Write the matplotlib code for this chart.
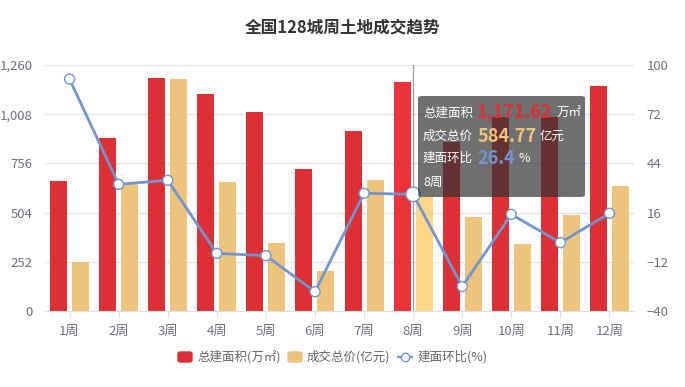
import matplotlib
matplotlib.use("Agg")
import matplotlib.pyplot as plt
import matplotlib.patches as patches
import numpy as np

plt.rcParams['font.family'] = ['Noto Sans CJK SC', 'DejaVu Sans']

# data
weeks = ["1周", "2周", "3周", "4周", "5周", "6周", "7周", "8周", "9周", "10周", "11周", "12周"]
area = [666, 884, 1192, 1110, 1018, 726, 923, 1171.62, 867, 995, 995, 1152]
price = [253, 650, 1187, 659, 347, 206, 671, 584.77, 481, 345, 492, 640]
ratio = [92.0, 32.1, 34.4, -7.2, -8.5, -29.0, 27.0, 26.4, -26.1, 15.0, -1.1, 15.6]
left_ticks = [0, 252, 504, 756, 1008, 1260]
right_ticks = [-40, -12, 16, 44, 72, 100]
hover = 7

RED, RED_HI = "#dc3035", "#ee3239"
ORANGE, ORANGE_HI = "#eec37b", "#fdd688"
BLUE = "#7195cf"
TICK = "#6e7079"
GRID = "#e0e6f1"

W, H = 685, 387
fig = plt.figure(figsize=(W / 100, H / 100), dpi=100)

def fx(x):
    return x / W

def fy(y):
    return 1 - y / H

ax = fig.add_axes([fx(45), fy(311), fx(634) - fx(45), fy(65) - fy(311)])
ax2 = ax.twinx()

x = np.arange(len(weeks))
bw = 0.345
off = 0.224
red_cols = [RED_HI if i == hover else RED for i in x]
org_cols = [ORANGE_HI if i == hover else ORANGE for i in x]
ax.bar(x - off, area, width=bw, color=red_cols, zorder=2)
ax.bar(x + off, price, width=bw, color=org_cols, zorder=2)

ax.set_xlim(-0.5, len(weeks) - 0.5)
ax.set_ylim(0, 1260)
ax.set_yticks(left_ticks)
ax.set_yticklabels([f"{v:,}" for v in left_ticks])
ax.set_xticks(x)
ax.set_xticklabels(weeks)
ax.grid(axis='y', color=GRID, lw=1, zorder=0)
ax.set_axisbelow(True)
for s in ["top", "right", "left"]:
    ax.spines[s].set_visible(False)
ax.spines["bottom"].set_color("#dcdfe6")
ax.tick_params(axis='x', colors=TICK, labelsize=9.5, length=5, color="#dcdfe6", pad=5)
ax.tick_params(axis='y', colors=TICK, labelsize=9.5, length=0, pad=9)

# pointer line
ax.axvline(hover, color="#999999", lw=0.8, zorder=5)

ax2.set_ylim(-40, 100)
ax2.set_yticks(right_ticks)
ax2.tick_params(axis='y', colors=TICK, labelsize=9.5, length=0, pad=9)
for s in ax2.spines.values():
    s.set_visible(False)
ax2.plot(x, ratio, color=BLUE, lw=2.0, zorder=3)
sizes = [7.2 if i != hover else 10.5 for i in x]
ax2.scatter(x, ratio, s=[v ** 2 for v in sizes], facecolor="white",
            edgecolor=BLUE, linewidth=1.0, zorder=4)

# title
fig.text(0.5, fy(27), "全国128城周土地成交趋势", ha='center', va='center',
         fontsize=12, fontweight='bold', color="#333333")

# legend
ly = fy(357)
fig.patches.append(patches.FancyBboxPatch((fx(178), fy(362)), fx(14), fy(352) - fy(362),
                                          boxstyle="round,pad=0,rounding_size=0.004",
                                          transform=fig.transFigure, color=RED))
fig.text(fx(197), ly, "总建面积(万㎡)", ha='left', va='center', fontsize=9, color="#666666")
fig.patches.append(patches.FancyBboxPatch((fx(288), fy(362)), fx(14), fy(352) - fy(362),
                                          boxstyle="round,pad=0,rounding_size=0.004",
                                          transform=fig.transFigure, color=ORANGE))
fig.text(fx(307), ly, "成交总价(亿元)", ha='left', va='center', fontsize=9, color="#666666")
fig.lines.append(plt.Line2D([fx(398), fx(412)], [ly, ly], transform=fig.transFigure,
                            color=BLUE, lw=1.5))
fig.lines.append(plt.Line2D([fx(405)], [ly], transform=fig.transFigure, marker='o',
                            markersize=6, markerfacecolor='white', markeredgecolor=BLUE,
                            color=BLUE))
fig.text(fx(418), ly, "建面环比(%)", ha='left', va='center', fontsize=9, color="#666666")

# tooltip
fig.patches.append(patches.FancyBboxPatch((fx(418), fy(197)), fx(585) - fx(418), fy(96) - fy(197),
                                          boxstyle="round,pad=0,rounding_size=0.006",
                                          transform=fig.transFigure, facecolor=(0.2, 0.2, 0.2, 0.7),
                                          edgecolor='none', zorder=10))
renderer = fig.canvas.get_renderer()
rows = [("总建面积", f"{area[hover]:,.2f}", "万㎡", RED, 113),
        ("成交总价", f"{price[hover]:,.2f}", "亿元", ORANGE, 136),
        ("建面环比", f"{ratio[hover]}", "%", BLUE, 158)]
for lab, num, unit, col, yy in rows:
    fig.text(fx(423), fy(yy), lab, ha='left', va='center', fontsize=9, color="white", zorder=11)
    t = fig.text(fx(477), fy(yy), num, ha='left', va='center', fontsize=13, fontweight='bold',
                 color=col, zorder=11)
    bb = t.get_window_extent(renderer)
    fig.text(fx(bb.x1 + 4), fy(yy), unit, ha='left', va='center', fontsize=9, color="white", zorder=11)
fig.text(fx(423), fy(182), weeks[hover], ha='left', va='center', fontsize=9, color="white", zorder=11)

fig.savefig("out.png", dpi=100)
